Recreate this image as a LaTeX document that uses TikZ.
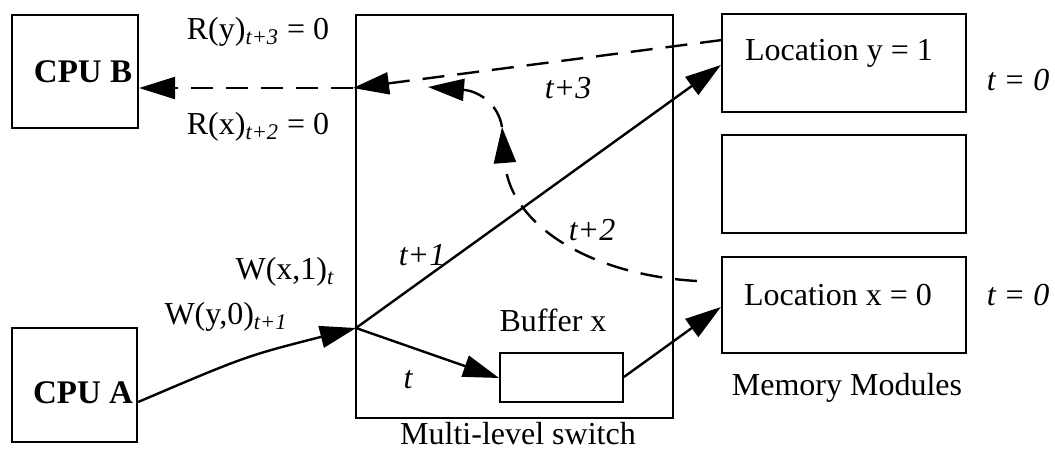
\documentclass[tikz,border=0pt]{standalone}
\usepackage{fontspec}
\setmainfont{Liberation Serif}
\usetikzlibrary{arrows.meta}
\newcommand{\tsub}[1]{\textsubscript{\itshape #1}}
\begin{document}
\begin{tikzpicture}[x=0.5pt,y=-0.5pt,
  box/.style={draw,line width=1.1pt,inner sep=0pt},
  conn/.style={line width=1.2pt,-{Triangle[length=18pt,width=11pt]}},
  dconn/.style={conn,dash pattern=on 11pt off 6.5pt},
  lbl/.style={inner sep=0pt,font=\fontsize{16}{19}\selectfont},
  tlbl/.style={lbl,font=\fontsize{16}{19}\selectfont\itshape}]
\useasboundingbox (0,0) rectangle (1055,451);
% boxes
\node[box,minimum width=63pt,minimum height=56.5pt] (cpub) at (75,71.5) {};
\node[box,minimum width=62.5pt,minimum height=57pt] (cpua) at (74.5,385) {};
\node[box,line width=0.9pt,minimum width=158.5pt,minimum height=201.5pt] (sw) at (514.5,216.5) {};
\node[box,minimum width=122pt,minimum height=49pt] (locy) at (844,63) {};
\node[box,minimum width=122pt,minimum height=49pt] (mid) at (844,184) {};
\node[box,minimum width=122pt,minimum height=48pt] (locx) at (844,305) {};
\node[box,line width=0.9pt,minimum width=61.5pt,minimum height=24.5pt] (buf) at (561.5,377.5) {};
% coordinates
\coordinate (j) at (356,328);
\coordinate (swin) at (353,88);
\coordinate (ystart) at (722,40);
\coordinate (xstart) at (697,281);
\coordinate (mida) at (502,127);
\coordinate (dmid) at (428,87);
% texts
\node[lbl,font=\fontsize{16.5}{20}\selectfont\bfseries] (tb) at (83,72) {CPU B};
\node[lbl,font=\fontsize{16.5}{20}\selectfont\bfseries] (ta) at (83,393) {CPU A};
\node[lbl] (ry) at (258,32) {R(y)\tsub{t+3} = 0};
\node[lbl] (rx) at (258,127) {R(x)\tsub{t+2} = 0};
\node[lbl] (wx) at (285,272) {W(x,1)\tsub{t}};
\node[lbl] (wy) at (226,317) {W(y,0)\tsub{t+1}};
\node[tlbl] (t1) at (422,255) {t+1};
\node[tlbl] (t0) at (408,380) {t};
\node[tlbl] (t2) at (592,230) {t+2};
\node[tlbl] (t3) at (568,88) {t+3};
\node[lbl] (bx) at (553,320) {Buffer x};
\node[lbl] (ms) at (518,434) {Multi-level switch};
\node[lbl] (ly) at (839,53) {Location y = 1};
\node[lbl] (lx) at (838,295) {Location x = 0};
\node[tlbl] (ty) at (1018,80) {t = 0};
\node[tlbl] (tx) at (1018,295) {t = 0};
\node[lbl] (mm) at (847,388) {Memory Modules};
% connectors
\draw[conn] (cpua.east |- 0,402) .. controls (246,356) .. (j);
\draw[conn] (j) -- (locy.west |- 0,65);
\draw[conn] (j) -- (buf.west |- 0,378);
\draw[conn] (buf.east |- 0,377) -- (locx.west |- 0,307);
\draw[dconn] (ystart) -- (swin);
\draw[dconn] (swin) -- (cpub.east |- swin);
\draw[dconn] (xstart) .. controls (590,275) and (510,225) .. (mida);
\draw[dconn] (mida) .. controls (498,103) and (478,91) .. (dmid);
\end{tikzpicture}
\end{document}
